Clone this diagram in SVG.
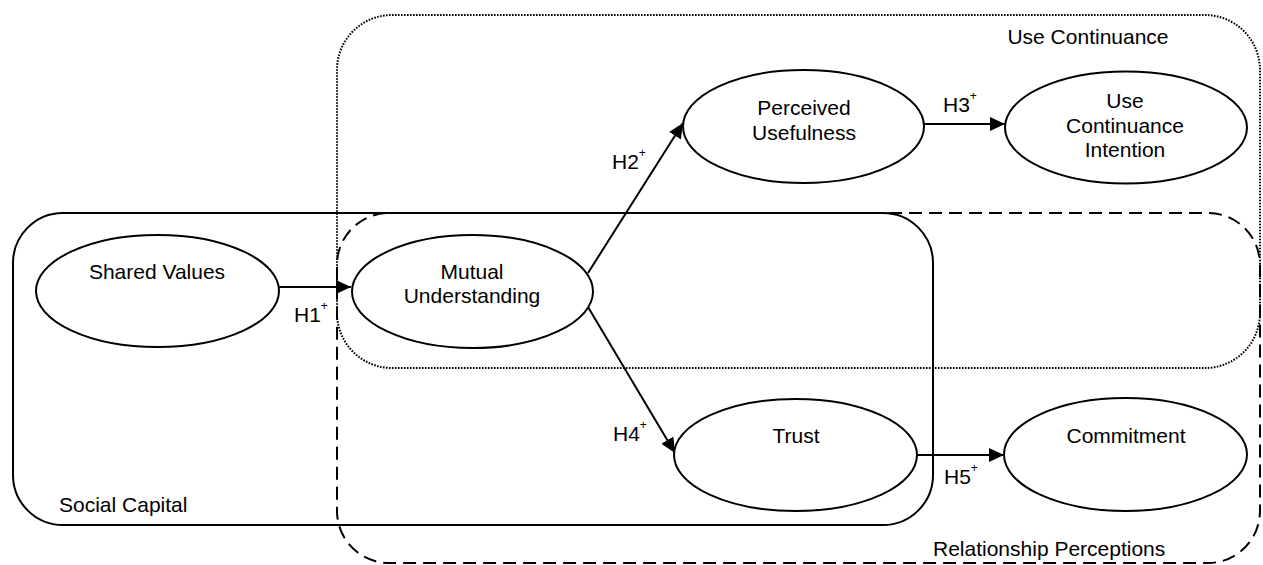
<svg xmlns="http://www.w3.org/2000/svg" width="1263" height="565" viewBox="0 0 1263 565">
<style>
text{font-family:"Liberation Sans",Arial,sans-serif;font-size:21px;fill:#000}
.c{text-anchor:middle}
.sup{font-size:12px}
.node{fill:#fff;stroke:#000;stroke-width:2}
.edge{stroke:#000;stroke-width:2;fill:none;marker-end:url(#ah)}
.box{fill:none;stroke:#000}
</style>
<defs>
<marker id="ah" markerUnits="userSpaceOnUse" markerWidth="16" markerHeight="14" refX="15" refY="7" orient="auto">
<path d="M0,0 L15,7 L0,14 Z" fill="#000"/>
</marker>
</defs>
<g id="groups">
<g id="social-capital">
<rect class="box" x="13" y="213" width="920" height="312" rx="50" ry="50" stroke-width="2"/>
<text x="59" y="512">Social Capital</text>
</g>
<g id="use-continuance">
<rect class="box" x="337" y="15" width="923" height="353" rx="55" ry="55" stroke-width="2" stroke-dasharray="1.6 1.4"/>
<text class="c" x="1088" y="44">Use Continuance</text>
</g>
<g id="relationship-perceptions">
<rect class="box" x="337" y="213" width="923" height="350" rx="52" ry="52" stroke-width="2" stroke-dasharray="13 7"/>
<text x="933" y="556">Relationship Perceptions</text>
</g>
</g>
<g id="connectors">
<line class="edge" x1="279" y1="287" x2="351" y2="287"/>
<line class="edge" x1="588" y1="273" x2="683" y2="123"/>
<line class="edge" x1="924" y1="124" x2="1005" y2="124"/>
<line class="edge" x1="588" y1="307" x2="675" y2="453"/>
<line class="edge" x1="917" y1="455" x2="1004" y2="455"/>
<text x="294" y="322">H1<tspan class="sup" dy="-12">+</tspan></text>
<text x="612" y="169">H2<tspan class="sup" dy="-12">+</tspan></text>
<text x="943" y="112">H3<tspan class="sup" dy="-12">+</tspan></text>
<text x="613" y="441">H4<tspan class="sup" dy="-12">+</tspan></text>
<text x="944" y="484">H5<tspan class="sup" dy="-12">+</tspan></text>
</g>
<g id="shared-values">
<ellipse class="node" cx="157.5" cy="291" rx="121.5" ry="56"/>
<text class="c" x="157" y="279">Shared Values</text>
</g>
<g id="mutual-understanding">
<ellipse class="node" cx="472.5" cy="291.5" rx="120.5" ry="56.5"/>
<text class="c" x="472" y="279">Mutual</text>
<text class="c" x="472" y="303">Understanding</text>
</g>
<g id="perceived-usefulness">
<ellipse class="node" cx="803.5" cy="126.5" rx="120.5" ry="56.5"/>
<text class="c" x="804" y="115">Perceived</text>
<text class="c" x="804" y="140">Usefulness</text>
</g>
<g id="use-continuance-intention">
<ellipse class="node" cx="1126" cy="127.5" rx="121" ry="56"/>
<text class="c" x="1125" y="108">Use</text>
<text class="c" x="1125" y="133">Continuance</text>
<text class="c" x="1125" y="157">Intention</text>
</g>
<g id="trust">
<ellipse class="node" cx="795.5" cy="455" rx="121.5" ry="56"/>
<text class="c" x="796" y="443">Trust</text>
</g>
<g id="commitment">
<ellipse class="node" cx="1125.5" cy="454.5" rx="121.5" ry="56.5"/>
<text class="c" x="1126" y="443">Commitment</text>
</g>
</svg>
